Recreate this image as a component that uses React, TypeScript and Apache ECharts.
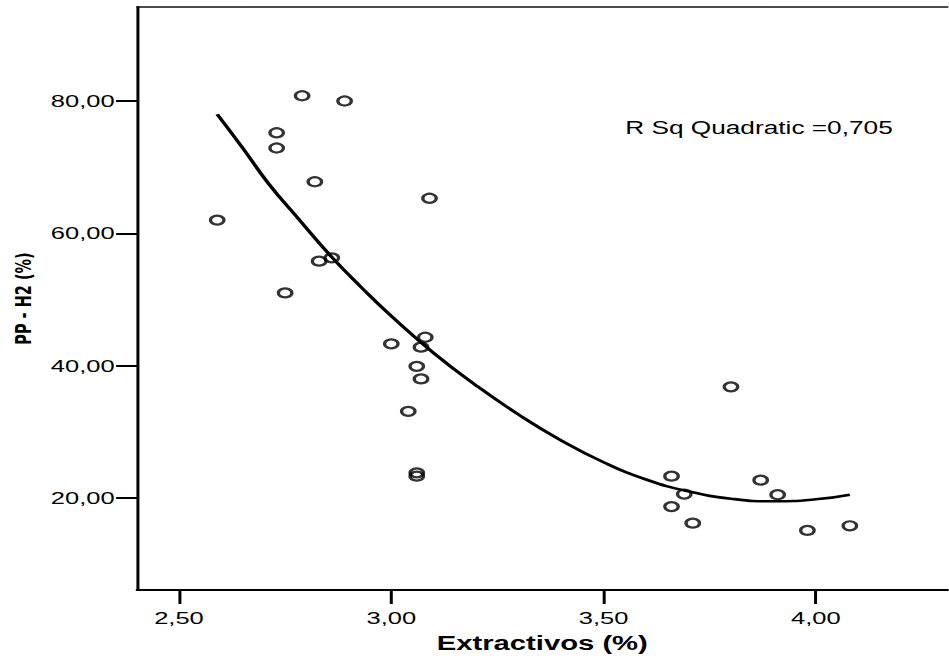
import React, { useEffect, useRef } from "react";
import * as echarts from "echarts";

// Scatter data: Extractivos (%) vs PP - H2 (%)
const extractivos = [
  2.59, 2.73, 2.73, 2.79, 2.89, 2.82, 3.09, 2.83, 2.86, 2.75, 3.0, 3.08, 3.07, 3.06,
  3.07, 3.04, 3.06, 3.06, 3.8, 3.66, 3.69, 3.66, 3.71, 3.87, 3.91, 3.98, 4.08,
];
const ppH2 = [
  62.0, 75.2, 72.9, 80.8, 80.0, 67.8, 65.3, 55.8, 56.3, 51.0, 43.3, 44.3, 42.8, 39.9,
  38.0, 33.1, 23.8, 23.3, 36.8, 23.3, 20.6, 18.7, 16.2, 22.7, 20.5, 15.1, 15.8,
];

// Quadratic fit line
const fitX = [
  2.59, 2.65, 2.71, 2.78, 2.86, 2.93, 3.0, 3.1, 3.2, 3.3, 3.4, 3.5, 3.6, 3.7, 3.8, 3.9,
  4.0, 4.08,
];
const fitY = [
  78.0, 72.9, 67.6, 62.3, 56.4, 51.8, 47.5, 41.9, 37.0, 32.6, 28.7, 25.4, 22.8, 21.0,
  19.9, 19.5, 19.8, 20.5,
];

const xTicks = [2.5, 3.0, 3.5, 4.0];
const yTicks = [20, 40, 60, 80];

const annotation = "R Sq Quadratic =0,705";

const BASE_W = 633;
const H = 661;
const STRETCH = 949 / BASE_W;

export default function App() {
  const ref = useRef<HTMLDivElement>(null);

  useEffect(() => {
    if (!ref.current) return;
    const chart = echarts.init(ref.current, undefined, { renderer: "svg" });
    const fmt = (v: number) => v.toFixed(2).replace(".", ",");
    const X_MIN = 2.4013;
    const X_MAX = 4.31;
    chart.setOption({
      animation: false,
      backgroundColor: "#ffffff",
      grid: {
        left: 90.67,
        right: 1,
        top: 7,
        bottom: 71,
        show: false,
      },
      xAxis: [
        {
          type: "value",
          min: X_MIN,
          max: X_MAX,
          splitLine: { show: false },
          axisLine: { show: true, onZero: false, lineStyle: { color: "#000", width: 2 } },
          axisTick: { show: true, length: 14, customValues: xTicks, lineStyle: { color: "#000", width: 2 } },
          axisLabel: {
            customValues: xTicks,
            formatter: (v: number) => fmt(v),
            color: "#000",
            fontFamily: "Liberation Sans",
            fontSize: 17,
            margin: 20,
          },
          name: "Extractivos (%)",
          nameLocation: "middle",
          nameGap: 43,
          nameTextStyle: {
            color: "#000",
            fontFamily: "Liberation Sans",
            fontWeight: "bold",
            fontSize: 19.5,
          },
        },
        {
          type: "value",
          position: "top",
          min: X_MIN,
          max: X_MAX,
          splitLine: { show: false },
          axisLine: { show: true, onZero: false, lineStyle: { color: "#111", width: 1.5 } },
          axisTick: { show: false },
          axisLabel: { show: false },
        },
      ],
      yAxis: {
        type: "value",
        min: 6.096,
        max: 94.21,
        splitLine: { show: false },
        axisLine: { show: true, onZero: false, lineStyle: { color: "#000", width: 2 } },
        axisTick: { show: true, length: 14, customValues: yTicks, lineStyle: { color: "#000", width: 2 } },
        axisLabel: {
          customValues: yTicks,
          formatter: (v: number) => fmt(v),
          color: "#000",
          fontFamily: "Liberation Sans",
          fontSize: 17,
          margin: 15,
        },
        name: "PP - H2 (%)",
        nameLocation: "middle",
        nameGap: 59,
        nameTextStyle: {
          color: "#000",
          fontFamily: "DejaVu Sans",
          fontWeight: "bold",
          fontSize: 14.5,
        },
      },
      graphic: [
        {
          type: "text",
          left: 417,
          top: 119,
          style: {
            text: annotation,
            fill: "#000",
            font: '17.5px "Liberation Sans"',
          },
        },
      ],
      series: [
        {
          type: "line",
          xAxisIndex: 0,
          data: fitX.map((x, i) => [x, fitY[i]]),
          smooth: true,
          showSymbol: false,
          symbol: "none",
          lineStyle: { color: "#000", width: 2.6 },
          z: 2,
        },
        {
          type: "scatter",
          xAxisIndex: 0,
          data: extractivos.map((x, i) => [x, ppH2[i]]),
          symbol: "circle",
          symbolSize: 9,
          itemStyle: { color: "rgba(0,0,0,0)", borderColor: "#000", borderWidth: 2.2 },
          z: 3,
        },
      ],
    });
    return () => chart.dispose();
  }, []);

  return (
    <div
      ref={ref}
      style={{
        position: "fixed",
        left: 0,
        top: 0,
        width: BASE_W,
        height: H,
        transform: `scaleX(${STRETCH})`,
        transformOrigin: "0 0",
        background: "#fff",
      }}
    />
  );
}
